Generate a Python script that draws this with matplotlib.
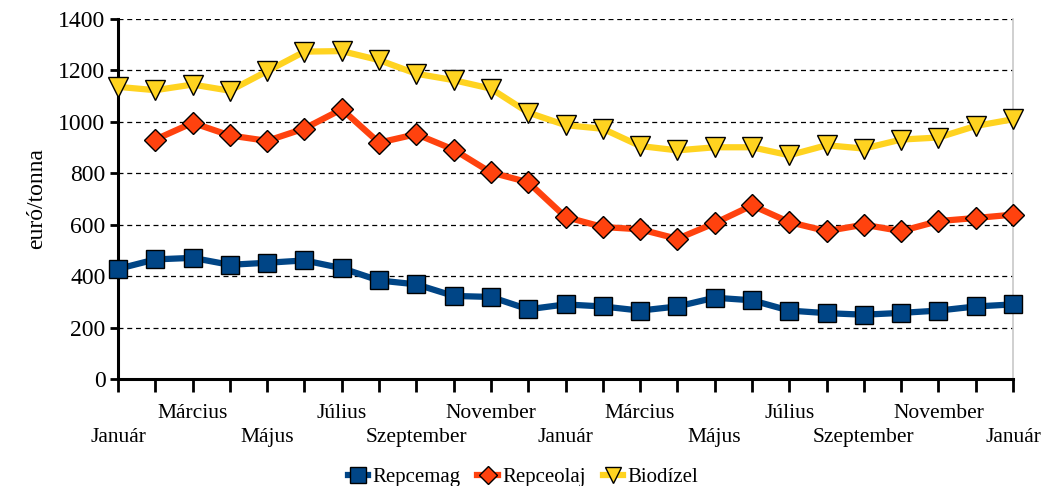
import numpy as np
import matplotlib.pyplot as plt
from matplotlib.lines import Line2D

plt.rcParams['font.family'] = ['Liberation Serif', 'DejaVu Serif']

honapok = ['Január', 'Március', 'Május', 'Július', 'Szeptember', 'November',
           'Január', 'Március', 'Május', 'Július', 'Szeptember', 'November', 'Január']

repcemag = [428, 465, 471, 444, 452, 461, 431, 383, 368, 323, 319, 271, 290,
            282, 266, 282, 316, 306, 266, 256, 250, 257, 266, 282, 290]
repceolaj = [np.nan, 931, 996, 947, 926, 974, 1049, 919, 952, 892, 803, 765, 630,
             591, 582, 545, 606, 675, 610, 575, 600, 575, 614, 626, 639]
biodizel = [1136, 1123, 1145, 1121, 1197, 1273, 1275, 1240, 1187, 1162, 1129, 1036, 987,
            973, 906, 889, 901, 901, 870, 909, 896, 931, 939, 984, 1010]

kek = '#004586'
narancs = '#FF420E'
sarga = '#FFD320'

x = np.arange(len(repcemag))

fig = plt.figure(figsize=(10.46, 4.86), dpi=100)
ax = fig.add_axes([0.1128, 0.2202, 0.8557, 0.7408])

ax.plot(x, repcemag, color=kek, lw=4.5, marker='s', ms=13,
        mfc=kek, mec='black', mew=1, zorder=3, clip_on=False)
ax.plot(x, repceolaj, color=narancs, lw=4.5, marker='D', ms=11,
        mfc=narancs, mec='black', mew=1, zorder=3, clip_on=False)
ax.plot(x, biodizel, color=sarga, lw=4.5, marker='v', ms=14,
        mfc=sarga, mec='black', mew=1, zorder=3, clip_on=False)

ax.set_xlim(0, len(x) - 1)
ax.set_ylim(0, 1400)
ax.set_yticks(range(0, 1401, 200))
ax.yaxis.grid(True, color='black', ls=(0, (4, 3)), lw=0.9)
ax.set_axisbelow(True)

ax.set_xticks(x)
ax.set_xticklabels([])
ax.tick_params(axis='x', length=9, width=2, direction='out')
ax.tick_params(axis='y', length=6, width=2, direction='out', labelsize=17, pad=3)

# honapnevek ket sorban, felvaltva
for i, h in enumerate(honapok):
    y = -0.07 if i % 2 == 1 else -0.135
    ax.text(i * 2, y, h, transform=ax.get_xaxis_transform(), ha='center', va='top',
            fontsize=15.5)

ax.set_ylabel('euró/tonna', fontsize=17, labelpad=8)

ax.spines['top'].set_visible(False)
ax.spines['right'].set_color('#c8c8c8')
ax.spines['right'].set_linewidth(1.2)
ax.spines['left'].set_linewidth(2.2)
ax.spines['bottom'].set_linewidth(2.2)

handles = [
    Line2D([], [], color=kek, lw=4.5, marker='s', ms=11, mfc=kek, mec='black', mew=1),
    Line2D([], [], color=narancs, lw=4.5, marker='D', ms=9, mfc=narancs, mec='black', mew=1),
    Line2D([], [], color=sarga, lw=4.5, marker='v', ms=11, mfc=sarga, mec='black', mew=1),
]
fig.legend(handles, ['Repcemag', 'Repceolaj', 'Biodízel'], loc='center',
           bbox_to_anchor=(0.5, 0.018), ncol=3, frameon=False, fontsize=15,
           handlelength=1.0, handletextpad=0.2, columnspacing=0.8,
           borderpad=0)

fig.savefig('out.png', dpi=100)
